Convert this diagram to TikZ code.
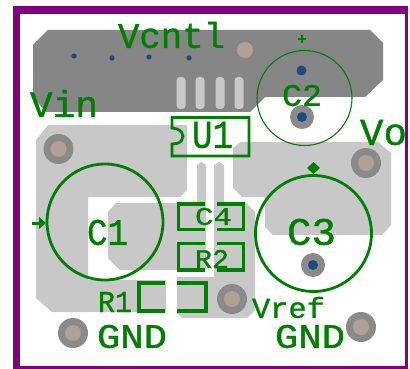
\documentclass[tikz,border=0pt]{standalone}
\usepackage{graphicx}
\usepackage{fontspec}
\setmainfont[FakeBold=1.0]{Liberation Mono}
\definecolor{pcbpurple}{HTML}{800080}
\definecolor{darkcu}{HTML}{868686}
\definecolor{lightcu}{HTML}{C8C8C8}
\definecolor{silk}{HTML}{008000}
\definecolor{ringc}{HTML}{8A8A8A}
\definecolor{tanc}{HTML}{B0A096}
\definecolor{viac}{HTML}{1F4A80}
\tikzset{
  silkline/.style={draw=silk,line width=2.8pt,line cap=butt,line join=miter},
  padline/.style={draw=silk,line width=3.6pt,line cap=butt,line join=miter},
  thinsilk/.style={draw=silk,line width=1.1pt},
  lightcopper/.style={fill=lightcu,draw=none},
  darkcopper/.style={fill=darkcu,draw=none},
  pin/.style={fill=lightcu,draw=none,rounded corners=3.5pt},
  silktext/.style={text=silk,inner sep=0pt,outer sep=0pt}
}
% label fitted into the box x0,y0,x1,y1
\newcommand{\lbl}[6]{\node[silktext] (#1) at ({(#2+#4)/2},{(#3+#5)/2}) {\resizebox{\dimexpr #4pt-#2pt\relax}{\dimexpr #5pt-#3pt\relax}{#6}};}
% through-hole pad
\newcommand{\bigpad}[3]{\fill[ringc] (#2,#3) circle[radius=15pt]; \fill[tanc] (#2,#3) circle[radius=8pt]; \coordinate (#1) at (#2,#3);}
\newcommand{\viapad}[3]{\fill[ringc] (#2,#3) circle[radius=12pt]; \fill[viac] (#2,#3) circle[radius=5pt]; \coordinate (#1) at (#2,#3);}
\begin{document}
\begin{tikzpicture}[x=1pt,y=-1pt]
\useasboundingbox (0,0) rectangle (410,369);
\fill[white] (0,0) rectangle (410,369);
% board outline
\fill[pcbpurple] (13,6.5) rectangle (408,369);
\fill[white] (20,14.5) rectangle (405,366);
% top copper
\path[darkcopper] (33,45) -- (48,30) -- (370,30) -- (383,43) -- (383,80) -- (365,97) -- (265,97) -- (250,112) -- (46,112) -- (33,97) -- cycle;
\foreach \px in {181,200,220,239} \path[pin] (\px-4.5,77) rectangle (\px+4.5,109);
% light copper
\path[lightcopper] (36,140) -- (48,125) -- (187,125) -- (187,190) -- (180,197) -- (88,197) -- (88,280) -- (166,280) -- (166,312) -- (52,312) -- (36,298) -- cycle;
\path[lightcopper] (108,212) -- (116,203) -- (197,203) -- (197,165) -- (201.5,162) -- (206,165) -- (206,270) -- (120,270) -- (108,258) -- cycle;
\path[lightcopper] (214,165) -- (219,162) -- (224,165) -- (224,202) -- (245,202) -- (255,212) -- (255,310) -- (247,318) -- (182,318) -- (177,313) -- (177,277) -- (214,277) -- cycle;
\path[lightcopper] (233,148) -- (241,142) -- (378,142) -- (391,153) -- (391,225) -- (382,235) -- (273,235) -- (265,227) -- (265,197) -- (242,197) -- (233,188) -- cycle;
% pads
\bigpad{p1}{58.5}{149}
\bigpad{p2}{366}{163}
\bigpad{p3}{73}{333}
\bigpad{p4}{232}{299}
\bigpad{p5}{361}{327}
\viapad{p6}{302}{117}
\viapad{p7}{313}{265}
\fill[tanc] (245,50) circle[radius=8pt];
\fill[viac] (301.5,70.5) circle[radius=5pt];
\foreach \vx/\vy in {74/56,112/58,149/57,189/58} \fill[viac] (\vx,\vy) circle[radius=2.6pt];
% silk outlines
\draw[silkline] (105,222) circle[radius=58pt];
\draw[silkline] (313.5,233.5) circle[radius=58pt];
\draw[thinsilk] (304.5,98) circle[radius=47.5pt];
\draw[thinsilk] (298,39) -- (306,39) (302,35) -- (302,43);
\draw[silk,line width=3pt] (32,223) -- (40,223);
\fill[silk] (39,217) -- (46,223) -- (39,229) -- cycle;
\fill[silk] (307,168) -- (313.5,162) -- (320,168) -- (313.5,174) -- cycle;
% U1 outline
\draw[silkline] (172,117.5) -- (249,117.5) -- (249,156) -- (172,156) -- (172,144) -- (177,143.5) .. controls (185,141) and (185,132) .. (177,129) -- (172,128) -- cycle;
% C4, R2, R1 brackets
\draw[padline] (205,204) -- (178.5,204) -- (178.5,229.5) -- (205,229.5);
\draw[padline] (217,204) -- (243.5,204) -- (243.5,229.5) -- (217,229.5);
\draw[padline] (205,243.5) -- (178.5,243.5) -- (178.5,270) -- (205,270);
\draw[padline] (217,243.5) -- (243.5,243.5) -- (243.5,270) -- (217,270);
\draw[padline] (165,283) -- (139,283) -- (139,311) -- (165,311);
\draw[padline] (177,283) -- (206,283) -- (206,311) -- (177,311);
% labels
\lbl{vcntl}{118}{22}{225}{48}{Vcntl}
\lbl{vin}{30}{90}{98}{117}{Vin}
\lbl{u1}{192}{122}{233}{148}{U1}
\lbl{c2}{282}{85}{322}{106}{C2}
\lbl{vo}{360}{120}{407}{145}{Vo}
\lbl{c1}{87}{220}{128}{245}{C1}
\lbl{c3}{287}{219}{336}{245}{C3}
\lbl{c4}{195}{208}{232}{225}{C4}
\lbl{r2}{195}{250}{229}{268}{R2}
\lbl{r1}{98}{292}{132}{312}{R1}
\lbl{gndl}{97}{325}{167}{348}{GND}
\lbl{gndr}{275}{325}{345}{348}{GND}
\lbl{vref}{252}{297}{325}{318}{Vref}
\end{tikzpicture}
\end{document}
